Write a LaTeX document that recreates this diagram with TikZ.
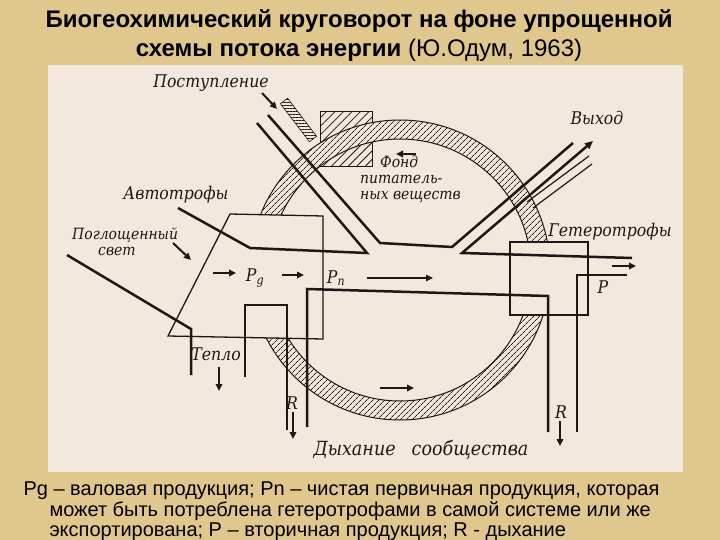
\documentclass[tikz,border=0pt]{standalone}
\usepackage{fontspec}
\setmainfont{Liberation Sans}
\newfontfamily\lblfont{DejaVu Serif}[FakeStretch=0.9]
\newfontfamily\capfont{Liberation Sans}
\usetikzlibrary{arrows.meta, patterns.meta}
\definecolor{SlideTan}{RGB}{224,199,141}
\definecolor{PaperBg}{RGB}{242,232,221}
\definecolor{Ink}{RGB}{28,24,22}

\begin{document}
\begin{tikzpicture}[x=1pt, y=-1pt,
  pipe/.style={draw=Ink, line width=2.5pt},
  wall/.style={draw=Ink, line width=1.3pt},
  flow/.style={-{Triangle[length=7pt,width=6.5pt]}, draw=Ink, line width=2pt},
  lbl/.style={font=\lblfont\itshape\fontsize{17.5}{19}\selectfont, text=Ink, inner sep=0pt},
  capline/.style={anchor=base west, font=\capfont\fontsize{20}{21}\selectfont},
  hatch/.style={pattern={Lines[angle=45,distance=4pt,line width=0.8pt]}, pattern color=Ink}
]
\fill[SlideTan] (0,0) rectangle (720,540);
\useasboundingbox (0,0) rectangle (720,540);
\fill[PaperBg] (48,65) rectangle (683,472);

% title
\node[anchor=base, font=\bfseries\fontsize{24}{26}\selectfont] (title1) at (359,28)
  {Биогеохимический круговорот на фоне упрощенной};
\node[anchor=base, font=\fontsize{24}{26}\selectfont] (title2) at (359,57)
  {\textbf{схемы потока энергии} (Ю.Одум, 1963)};

% nutrient pool and input strip (under the ring)
\draw[Ink, line width=1pt, pattern={Lines[angle=45,distance=6pt,line width=0.8pt]}, pattern color=Ink]
  (320,112) rectangle (372,167);
\draw[Ink, line width=0.6pt, pattern={Lines[angle=0,distance=3pt,line width=0.8pt]}, pattern color=Ink]
  (280.4,103.7) -- (287.6,98.3) -- (316.6,136.3) -- (309.4,141.7) -- cycle;

% ring
\path[preaction={fill=PaperBg, even odd rule}, hatch, even odd rule]
  (400,270) circle[radius=150] (400,270) circle[radius=131];
\draw[Ink, line width=1pt] (400,270) circle[radius=150] (400,270) circle[radius=131];

% boxes
\draw[wall, fill=PaperBg] (230,214) -- (323,216) -- (323,339) -- (168,336) -- cycle;
\draw[wall, fill=PaperBg] (510,242) rectangle (588,315);

% channels
\draw[pipe] (67,255) -- (191,329) -- (191,375);
\draw[pipe] (245,377) -- (245,305) -- (287,305) -- (287,430);
\draw[pipe] (307,427) -- (307,289) -- (548,296) -- (548,432);
\draw[pipe] (178,208) -- (250,248) -- (367,253) -- (257,123);
\draw[pipe] (268,115) -- (380,243) -- (452,247) -- (573,143);
\draw[pipe, -{Triangle[length=8pt,width=7pt]}] (632,258) -- (462,253) -- (593,141);
\draw[pipe] (627,275) -- (577,275) -- (577,432);
\draw[Ink, line width=1.2pt] (527,202) -- (589,156);
\draw[Ink, line width=1.2pt] (533,208) -- (592,164);

% arrows
\draw[flow] (262,93) -- (277,109);
\draw[flow] (173,243) -- (191,260);
\draw[flow] (213,273) -- (236,273);
\draw[flow] (282,275) -- (304,275);
\draw[flow, line width=1.5pt] (367,278) -- (433,278);
\draw[flow] (416,154) -- (396,154);
\draw[flow] (380,388) -- (414,388);
\draw[flow] (219,367) -- (219,391);
\draw[flow] (293,412) -- (293,439);
\draw[flow] (560,421) -- (560,446);
\draw[flow] (612,266) -- (636,266);

% labels
\node[lbl] (inflow) at (211,83) {Поступление};
\node[lbl] (autotr) at (176,195) {Автотрофы};
\node[lbl, anchor=west, align=left, font=\lblfont\itshape\fontsize{15.5}{16}\selectfont] (light) at (72,242)
  {Поглощенный\\\hspace*{26pt}свет};
\node[lbl] (heat) at (216,354) {Тепло};
\node[lbl, anchor=north west, align=left, font=\lblfont\itshape\fontsize{15.5}{16}\selectfont] (pool) at (360,156)
  {\hspace*{20pt}Фонд\\питатель-\\ных веществ};
\node[lbl] (outflow) at (597,118) {Выход};
\node[lbl] (heterotr) at (610,232) {Гетеротрофы};
\node[lbl] (pg) at (255,278) {P\textsubscript{g}};
\node[lbl] (pn) at (336,278) {P\textsubscript{n}};
\node[lbl] (psec) at (603,287) {P};
\node[lbl] (rleft) at (292,403) {R};
\node[lbl] (rright) at (561,412) {R};
\node[lbl, font=\lblfont\itshape\fontsize{19.5}{21}\selectfont] (resp) at (421,450)
  {Дыхание\hspace{16pt}сообщества};

% caption
\node[capline] (cap1) at (20,495) {Pg – валовая продукция; Pn – чистая первичная продукция, которая};
\node[capline] (cap2) at (46,516) {может быть потреблена гетеротрофами в самой системе или же};
\node[capline] (cap3) at (46,536) {экспортирована; P – вторичная продукция; R - дыхание};
\end{tikzpicture}
\end{document}
